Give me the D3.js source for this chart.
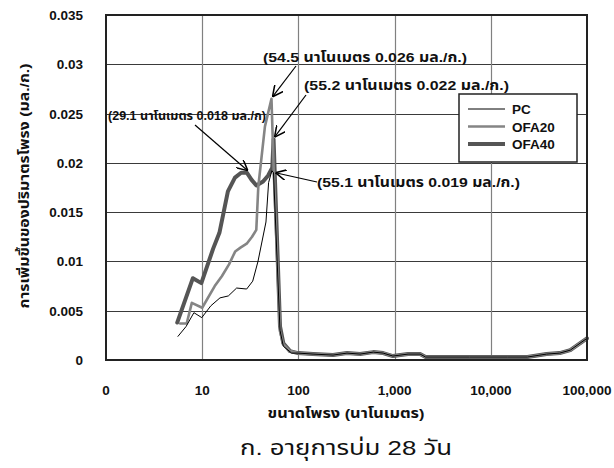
<!DOCTYPE html>
<html>
<head>
<meta charset="utf-8">
<script src="https://cdn.jsdelivr.net/npm/d3@7"></script>
<style>
  body { margin: 0; background: #fff; }
  svg text { font-family: "Liberation Sans", Arial, "Noto Sans Thai", "Loma", "Garuda", sans-serif; fill: #111; }
  .tick-label { font-size: 13.5px; font-weight: bold; }
  .note { font-size: 13.5px; font-weight: bold; }
</style>
</head>
<body>
<svg id="chart" width="614" height="468"></svg>
<script>
// pore size (nm) and incremental pore volume (ml/g)
var pcPore   = [5.6, 6.8, 8.2, 9.9, 12.3, 15.3, 18.7, 22.8, 29.0, 33.5, 38.0, 46.0, 49.0, 53.0, 55.1, 64.4, 69.7, 85.0];
var pcInc    = [0.0024, 0.0034, 0.0048, 0.0043, 0.0055, 0.0063, 0.0065, 0.0073, 0.0072, 0.0080, 0.0100, 0.0140, 0.0180, 0.0192, 0.0190, 0.0030, 0.0014, 0.0007];

var ofa20Pore = [5.9, 6.9, 7.8, 10.0, 13.5, 16.0, 19.0, 22.0, 25.0, 29.0, 33.0, 36.5, 38.3, 44.9, 52.5, 55.5, 64.4, 69.7, 82.0];
var ofa20Inc  = [0.0037, 0.0037, 0.0058, 0.0053, 0.0075, 0.0085, 0.0097, 0.0110, 0.0114, 0.0118, 0.0125, 0.0132, 0.0176, 0.0237, 0.0265, 0.0190, 0.0029, 0.0016, 0.0009];

var ofa40Pore = [5.5, 8.0, 9.8, 13.0, 15.1, 18.5, 21.9, 25.4, 29.1, 32.5, 36.6, 42.9, 48.3, 53.5, 55.2, 64.4, 69.7, 81.8];
var ofa40Inc  = [0.0038, 0.0083, 0.0078, 0.0113, 0.0129, 0.0171, 0.0185, 0.0190, 0.0190, 0.0183, 0.0177, 0.0181, 0.0187, 0.0195, 0.0224, 0.0034, 0.0017, 0.0009];

// the three curves lie on top of each other past ~100 nm
var tailPore = [99, 142, 229, 320, 437, 600, 760, 960, 1380, 1840, 2100, 6000, 15000, 24000, 38000, 52000, 67000, 100000];
var tailInc  = [0.0007, 0.0006, 0.0005, 0.0007, 0.0006, 0.0008, 0.0007, 0.0004, 0.0006, 0.0006, 0.0003, 0.0003, 0.0003, 0.0003, 0.0006, 0.0007, 0.0010, 0.0022];

var xTicks = [1, 10, 100, 1000, 10000, 100000];
var xTickLabels = ["0", "10", "100", "1,000", "10,000", "100,000"];
var yTicks = [0, 0.005, 0.01, 0.015, 0.02, 0.025, 0.03, 0.035];
var yTickLabels = ["0", "0.005", "0.01", "0.015", "0.02", "0.025", "0.03", "0.035"];

var seriesNames = ["PC", "OFA20", "OFA40"];

var notes = [
    {text: "(54.5 นาโนเมตร 0.026 มล./ก.)", pore: 52.5, inc: 0.0265},
    {text: "(55.2 นาโนเมตร 0.022 มล./ก.)", pore: 55.2, inc: 0.0224},
    {text: "(29.1 นาโนเมตร 0.018 มล./ก)",  pore: 29.1, inc: 0.0190},
    {text: "(55.1 นาโนเมตร 0.019 มล./ก.)", pore: 55.1, inc: 0.0190}
];

function zipSeries(p, v){
    var out = [];
    for (var i = 0; i < p.length; i++) out.push({pore: p[i], inc: v[i]});
    for (var j = 0; j < tailPore.length; j++) out.push({pore: tailPore[j], inc: tailInc[j]});
    return out;
}

var series = [
    {name: seriesNames[0], color: "#000",    width: 1,   values: zipSeries(pcPore, pcInc)},
    {name: seriesNames[1], color: "#858585", width: 2.6, values: zipSeries(ofa20Pore, ofa20Inc)},
    {name: seriesNames[2], color: "#555",    width: 4,   values: zipSeries(ofa40Pore, ofa40Inc)}
];

var margin = {left: 106, top: 15, right: 27, bottom: 108};
var W = 614, H = 468;
var pw = W - margin.left - margin.right, ph = H - margin.top - margin.bottom;

var svg = d3.select("#chart");
var g = svg.append("g").attr("transform", "translate(" + margin.left + "," + margin.top + ")");

var x = d3.scaleLog().domain([1, 100000]).range([0, pw]);
var y = d3.scaleLinear().domain([0, 0.035]).range([ph, 0]);

// arrow head marker (open V)
svg.append("defs").append("marker")
    .attr("id", "arr")
    .attr("viewBox", "0 0 10 10")
    .attr("refX", 10).attr("refY", 5)
    .attr("markerWidth", 11).attr("markerHeight", 11)
    .attr("markerUnits", "userSpaceOnUse")
    .attr("orient", "auto")
    .append("path")
    .attr("d", "M0,0 L10,5 L0,10")
    .attr("fill", "none")
    .attr("stroke", "#000")
    .attr("stroke-width", 1.4);

// grid
g.append("g").selectAll("line").data(yTicks.slice(1, -1)).enter().append("line")
    .attr("x1", 0).attr("x2", pw)
    .attr("y1", function(d){ return Math.round(y(d)) + 0.5; })
    .attr("y2", function(d){ return Math.round(y(d)) + 0.5; })
    .attr("stroke", "#3a3a3a").attr("stroke-width", 1.2);

g.append("g").selectAll("line").data(xTicks.slice(1, -1)).enter().append("line")
    .attr("y1", 0).attr("y2", ph)
    .attr("x1", function(d){ return Math.round(x(d)) + 0.5; })
    .attr("x2", function(d){ return Math.round(x(d)) + 0.5; })
    .attr("stroke", "#808080").attr("stroke-width", 1.2);

// curves
var line = d3.line()
    .x(function(d){ return x(d.pore); })
    .y(function(d){ return y(d.inc); });

g.append("g").selectAll("path").data(series.slice().reverse()).enter().append("path")
    .attr("d", function(d){ return line(d.values); })
    .attr("fill", "none")
    .attr("stroke", function(d){ return d.color; })
    .attr("stroke-width", function(d){ return d.width; })
    .attr("stroke-linejoin", "round")
    .attr("stroke-linecap", "round");

// frame
g.append("rect")
    .attr("x", 0).attr("y", 0).attr("width", pw).attr("height", ph)
    .attr("fill", "none").attr("stroke", "#222").attr("stroke-width", 2);

// tick labels
g.append("g").selectAll("text").data(yTicks).enter().append("text")
    .attr("class", "tick-label")
    .attr("x", -23)
    .attr("y", function(d){ return y(d) + 5; })
    .attr("text-anchor", "end")
    .text(function(d, i){ return yTickLabels[i]; });

g.append("g").selectAll("text").data(xTicks).enter().append("text")
    .attr("class", "tick-label")
    .attr("x", function(d){ return x(d); })
    .attr("y", ph + 35)
    .attr("text-anchor", "middle")
    .text(function(d, i){ return xTickLabels[i]; });

// axis titles (widths matched to the scan with textLength)
svg.append("text")
    .attr("class", "tick-label")
    .attr("x", 346).attr("y", 418)
    .attr("text-anchor", "middle")
    .attr("textLength", 157).attr("lengthAdjust", "spacingAndGlyphs")
    .text("ขนาดโพรง (นาโนเมตร)");

svg.append("text")
    .attr("class", "tick-label")
    .attr("transform", "translate(29,186) rotate(-90)")
    .attr("text-anchor", "middle")
    .attr("textLength", 245).attr("lengthAdjust", "spacingAndGlyphs")
    .text("การเพิ่มขึ้นของปริมาตรโพรง (มล./ก.)");

svg.append("text")
    .attr("x", 346).attr("y", 455)
    .attr("text-anchor", "middle")
    .attr("textLength", 212).attr("lengthAdjust", "spacingAndGlyphs")
    .style("font-size", "21px")
    .text("ก. อายุการบ่ม 28 วัน");

// annotations: label position and arrow start are placed by hand
var notePos = [
    {tx: 263, ty: 62, ax: 296, ay: 66, w: 204, size: 13.5},
    {tx: 304, ty: 90, ax: 306, ay: 95, w: 205, size: 13.5},
    {tx: 108, ty: 120, ax: 195, ay: 125, w: 158, size: 12},
    {tx: 317, ty: 187, ax: 317, ay: 182, w: 203, size: 13.5}
];

var ng = svg.append("g");
notes.forEach(function(n, i){
    var p = notePos[i];
    ng.append("line")
        .attr("x1", p.ax).attr("y1", p.ay)
        .attr("x2", margin.left + x(n.pore) + (i == 3 ? 2 : 1)).attr("y2", margin.top + y(n.inc) - (i == 3 ? 0 : 2))
        .attr("stroke", "#000").attr("stroke-width", 1.2)
        .attr("marker-end", "url(#arr)");
    ng.append("text")
        .attr("class", "note")
        .attr("x", p.tx).attr("y", p.ty)
        .attr("textLength", p.w).attr("lengthAdjust", "spacingAndGlyphs")
        .style("font-size", p.size + "px")
        .text(n.text);
});

// legend
var lg = svg.append("g").attr("transform", "translate(459,94)");
lg.append("rect").attr("width", 118).attr("height", 68)
    .attr("fill", "#fff").attr("stroke", "#222").attr("stroke-width", 1.5);
var items = lg.selectAll("g.item").data(series).enter().append("g")
    .attr("transform", function(d, i){ return "translate(0," + (15 + i * 17.5) + ")"; });
items.append("line")
    .attr("x1", 9).attr("x2", 46)
    .attr("stroke", function(d){ return d.color; })
    .attr("stroke-width", function(d){ return d.width; });
items.append("text")
    .attr("class", "tick-label")
    .attr("x", 53).attr("y", 5)
    .text(function(d){ return d.name; });
</script>
</body>
</html>
